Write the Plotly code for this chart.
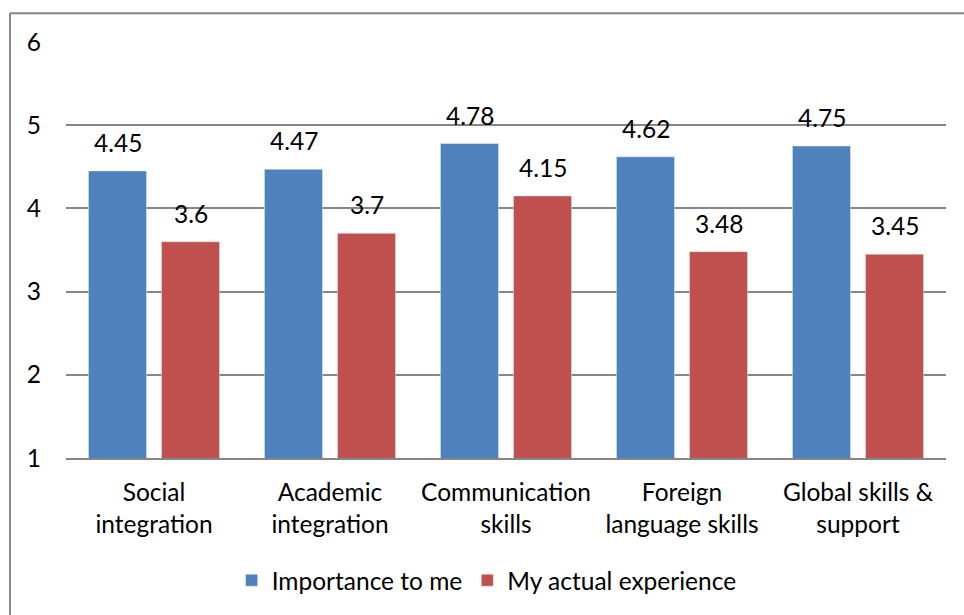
import plotly.graph_objects as go

categories = ["Social<br>integration", "Academic<br>integration", "Communication<br>skills",
              "Foreign<br>language skills", "Global skills &<br>support"]
importance = [4.45, 4.47, 4.78, 4.62, 4.75]
experience = [3.6, 3.7, 4.15, 3.48, 3.45]
series_names = ["Importance to me", "My actual experience"]
tick_vals = [1, 2, 3, 4, 5, 6]

FONT = "Lato, Carlito, Calibri, sans-serif"
FS = 24.5
fig = go.Figure()
fig.add_trace(go.Bar(x=categories, y=importance, name=series_names[0], marker_color="#4F81BD"))
fig.add_trace(go.Bar(x=categories, y=experience, name=series_names[1], marker_color="#C0504D"))

# data labels above each bar
for vals, shift in ((importance, -36.5), (experience, 36.5)):
    for c, v in zip(categories, vals):
        fig.add_annotation(x=c, y=v, text=f"{v:g}", showarrow=False, xshift=shift,
                           yanchor="bottom", yshift=12,
                           font=dict(size=FS, color="#000000", family=FONT))

fig.update_layout(
    width=964, height=615,
    margin=dict(l=66, r=18, t=42, b=155),
    paper_bgcolor="white", plot_bgcolor="white",
    barmode="group", bargap=0.17, bargroupgap=0.205,
    font=dict(family=FONT, size=FS, color="#000000"),
    legend=dict(orientation="h", x=0.478, xanchor="center", y=-0.294, yanchor="middle",
                font=dict(size=FS), itemwidth=30, traceorder="normal"),
    showlegend=True,
)
fig.update_yaxes(range=[1, 6], tickvals=tick_vals, showgrid=True, gridcolor="#868686", gridwidth=1.5,
                 zeroline=False, showline=False, ticks="", ticklabelstandoff=24)
fig.update_xaxes(showline=True, linecolor="#868686", linewidth=1.5, ticks="", ticklabelstandoff=12)

# chart border (left and top edges visible)
fig.add_shape(type="line", xref="paper", yref="paper", x0=(10-66)/880, x1=(10-66)/880,
              y0=1 + (42-13)/418, y1=-0.5, line=dict(color="#868686", width=2))
fig.add_shape(type="line", xref="paper", yref="paper", x0=(10-66)/880, x1=1.1,
              y0=1 + (42-13)/418, y1=1 + (42-13)/418, line=dict(color="#868686", width=2))

fig.write_html("out.html")
